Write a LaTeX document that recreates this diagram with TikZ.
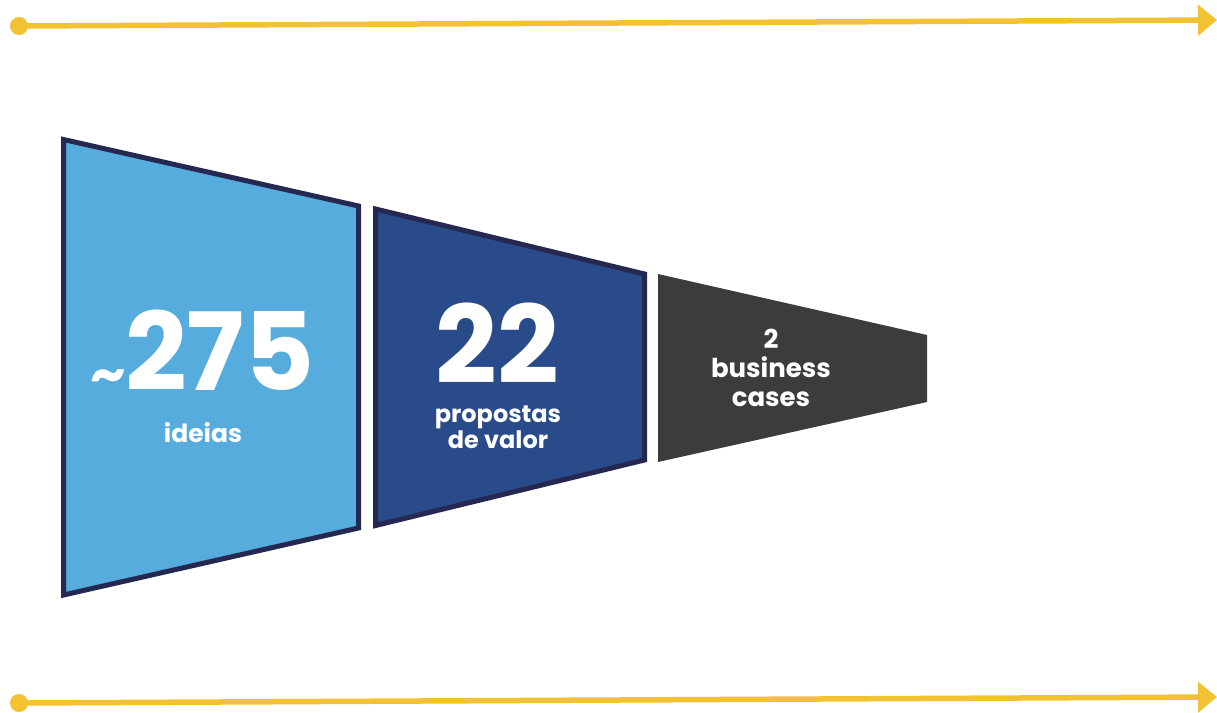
\documentclass[tikz,border=0pt]{standalone}
\usepackage{fontspec}
\setmainfont{Poppins}
\usetikzlibrary{arrows.meta}
\definecolor{ylw}{HTML}{F2C233}
\definecolor{lblue}{HTML}{56ACDD}
\definecolor{dblue}{HTML}{2A4B89}
\definecolor{navy}{HTML}{252850}
\definecolor{dgray}{HTML}{3C3C3C}
\begin{document}
\begin{tikzpicture}[x=1pt,y=-1pt,
  dot/.style={circle,fill=ylw,inner sep=0pt,minimum size=18pt},
  yline/.style={draw=ylw,line width=5.5pt,-{Triangle[length=19pt,width=30pt]}},
  stage/.style={line width=5pt,draw=navy,line join=miter},
  big/.style={text=white,font=\fontsize{108}{108}\selectfont\bfseries,inner sep=0pt,text depth=0pt},
  small/.style={text=white,font=\fontsize{25}{26}\selectfont\bfseries,align=center,inner sep=0pt}]
\useasboundingbox (0,0) rectangle (1217,712);
% arrows
\node[dot] (d1) at (19,26) {};
\coordinate (e1) at (1217,20);
\draw[yline] (d1.center) -- (e1);
\node[dot] (d2) at (19,703) {};
\coordinate (e2) at (1217,697);
\draw[yline] (d2.center) -- (e2);
% stages
\filldraw[stage,fill=lblue] (63.5,139.5) -- (358.5,206) -- (358.5,528) -- (63.5,595) -- cycle;
\filldraw[stage,fill=dblue] (375.5,209) -- (644.5,274) -- (644.5,460) -- (375.5,525.5) -- cycle;
\fill[dgray] (658,274) -- (927,335) -- (927,402) -- (658,462) -- cycle;
% texts
\node[big,anchor=base] (n1) at (220,390) {275};
\node[text=white,font=\fontsize{56}{56}\selectfont\bfseries,inner sep=0pt,anchor=base east] (t1) at ([xshift=1pt,yshift=-3pt]n1.base west) {\char`\~};
\node[small,anchor=base] (l1) at (203,442) {ideias};
\node[big,anchor=base] (n2) at (497,383) {22};
\node[small,font=\fontsize{24}{26}\selectfont\bfseries,anchor=base] (l2) at (498,448) {propostas\\de valor};
\node[small,font=\fontsize{26}{29}\selectfont\bfseries,anchor=base] (l3) at (771,406) {2\\business\\cases};
\end{tikzpicture}
\end{document}
